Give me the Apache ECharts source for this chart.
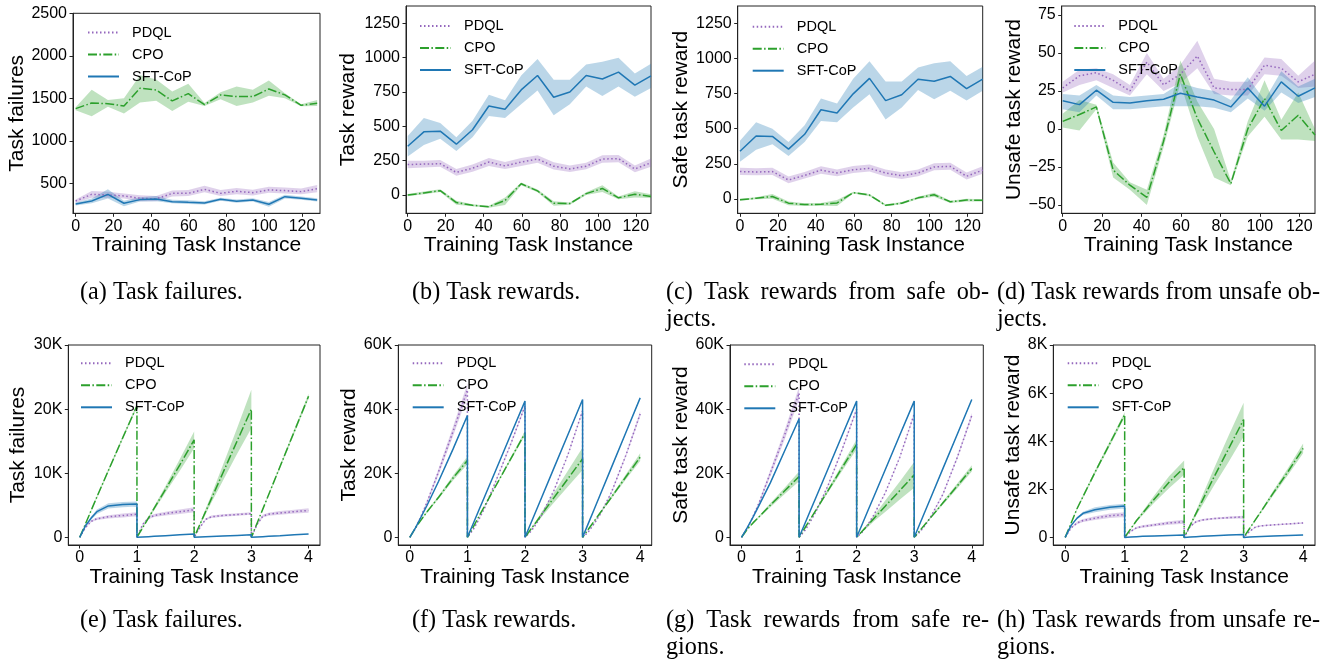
<!DOCTYPE html>
<html>
<head>
<meta charset="utf-8">
<script src="https://cdn.jsdelivr.net/npm/echarts@6/dist/echarts.min.js"></script>
<style>
html,body{margin:0;padding:0;background:#fff;}
#chart{width:1336px;height:663px;}
</style>
</head>
<body>
<div id="chart"></div>
<script>
// ---------- DATA ----------
const seriesNames = ['PDQL', 'CPO', 'SFT-CoP'];
const xAxisTitle = 'Training Task Instance';
const yTitles = ['Task failures', 'Task reward', 'Safe task reward', 'Unsafe task reward',
                 'Task failures', 'Task reward', 'Safe task reward', 'Unsafe task reward'];
const topTicksX = [0, 20, 40, 60, 80, 100, 120];
const botTicksX = [0, 1, 2, 3, 4];

const topX = [0, 8.5, 17.1, 25.6, 34.1, 42.7, 51.2, 59.7, 68.3, 76.8, 85.3, 93.9, 102.4, 110.9, 119.5, 128];
const botX = [0,0.1,0.2,0.3,0.5,0.75,1, 1,1.1,1.2,1.3,1.5,1.75,2, 2,2.1,2.2,2.3,2.5,2.75,3, 3,3.1,3.2,3.3,3.5,3.75,4];

// (a) Task failures
const aPdql   = [292,370,363,351,324,316,382,382,429,382,406,390,422,414,402,437];
const aPdqlLo = [270,330,330,320,290,290,345,350,395,350,370,355,390,380,370,395];
const aPdqlHi = [310,410,400,380,360,350,415,420,470,420,445,425,460,450,440,480];
const aCpo    = [1378,1445,1437,1410,1618,1598,1469,1555,1425,1539,1520,1520,1610,1540,1418,1441];
const aCpoLo  = [1360,1290,1400,1320,1450,1470,1350,1460,1410,1490,1410,1450,1530,1500,1405,1410];
const aCpoHi  = [1395,1600,1480,1500,1770,1720,1580,1670,1445,1570,1640,1600,1710,1560,1430,1480];
const aSft    = [257,292,370,265,308,316,284,276,269,312,288,304,253,343,324,304];
const aSftLo  = [240,265,320,230,285,290,265,255,250,295,270,285,225,320,305,285];
const aSftHi  = [275,320,430,295,335,350,305,300,290,330,310,325,280,365,345,325];

// (b) Task rewards
const bPdql   = [222,225,228,165,195,240,212,240,262,210,190,210,262,265,190,235];
const bPdqlLo = [195,200,205,140,170,212,190,212,235,185,168,188,235,238,165,205];
const bPdqlHi = [250,250,255,190,222,270,240,270,290,238,215,235,290,292,215,265];
const bCpo    = [0,15,32,-55,-75,-85,-40,82,30,-60,-62,10,48,-20,5,-10];
const bCpoLo  = [-8,5,22,-70,-82,-92,-72,72,20,-78,-70,0,22,-30,-18,-22];
const bCpoHi  = [8,25,42,-42,-68,-78,-18,92,40,-45,-55,20,72,-10,28,5];
const bSft    = [355,460,465,370,475,648,625,765,870,712,750,870,845,895,800,868];
const bSftLo  = [280,365,410,320,420,575,560,660,760,580,660,790,720,790,715,780];
const bSftHi  = [430,560,525,420,540,730,690,870,990,840,840,950,970,1000,885,955];

// (c) Task rewards from safe objects
const cPdql   = [195,192,195,135,168,205,185,208,218,185,165,185,228,232,162,205];
const cPdqlLo = [170,168,170,112,145,180,162,185,195,160,142,162,205,208,138,180];
const cPdqlHi = [222,218,222,160,192,232,210,235,245,210,190,210,255,258,188,232];
const cCpo    = [-5,5,18,-30,-40,-38,-28,45,28,-45,-30,8,30,-20,-8,-10];
const cCpoLo  = [-12,-2,2,-45,-50,-48,-50,38,20,-52,-38,0,16,-28,-18,-18];
const cCpoHi  = [2,12,35,-18,-30,-28,-8,52,36,-38,-22,16,44,-12,2,-2];
const cSft    = [340,448,445,355,460,635,612,748,858,700,742,852,838,872,785,852];
const cSftLo  = [265,350,390,305,405,555,545,650,745,565,650,775,710,770,700,770];
const cSftHi  = [415,545,500,405,525,715,680,855,980,835,835,935,965,980,875,940];

// (d) Task rewards from unsafe objects
const dPdql   = [27,35,37,32,25,44,29,36,48,27,26,26,42,40,31,36];
const dPdqlLo = [24,29,32,27,22,36,25,30,40,23,22,22,36,35,27,28];
const dPdqlHi = [31,39,40,36,29,50,33,42,58,33,31,31,47,46,35,45];
const dCpo    = [5,9.5,14.5,-27,-37,-45,-8,36,7,-15,-36,0,20,-1,9,-4];
const dCpoLo  = [1,-1,13,-32,-40,-50,-12,30,-5,-32,-37,-5,8,-7,-7,-8];
const dCpoHi  = [10,19,16,-22,-35,-40,-4,45,18,0,-34,5,32,6,24,0];
const dSft    = [18.5,16,25.5,17.5,17,18.5,19.5,23.5,21,19,14.5,27,15,31,21.5,27];
const dSftLo  = [13,11,22,13,13,14,15,15,15,14,11,20,12,24,17,21];
const dSftHi  = [23,22,29,22,21,22,23,30,27,25,19,34,19,38,28,33];

// (e) Task failures (cumulative)
const ePdql   = [0,1500,2500,2900,3200,3400,3600, 0,2000,3000,3400,3700,4000,4300, 0,1500,2800,3200,3400,3550,3700, 0,2000,3300,3600,3800,4000,4200];
const ePdqlSp = [0,100,150,200,250,300,300, 0,150,200,250,300,350,400, 0,100,150,200,200,200,200, 0,150,200,250,300,300,350];
const eCpo    = [0,2100,4200,6300,10400,15500,20500, 0,1500,3000,4500,7500,11300,15200, 0,2000,4000,6000,10000,15000,20000, 0,2200,4400,6600,11000,16500,22000];
const eCpoSp  = [0,100,150,200,250,300,300, 0,100,200,300,500,900,1300, 0,200,400,600,1200,2000,3000, 0,50,100,150,250,350,400];
const eSft    = [0,1800,3000,4000,4900,5100,5200, 0,50,100,150,250,380,500, 0,40,80,120,200,300,400, 0,50,100,150,250,380,500];
const eSftSp  = [0,150,250,350,400,400,400, 0,20,20,20,30,30,30, 0,20,20,20,30,30,30, 0,20,20,20,30,30,30];

// (f) Task rewards (cumulative)
const fPdql   = [0,2800,6800,11000,20500,33000,46000, 0,2400,5600,9200,17800,29000,41000, 0,1800,4300,7300,14500,26000,39500, 0,1700,4200,7000,14000,25500,38500];
const fPdqlSp = [0,100,300,500,1000,1500,2000, 0,50,100,200,300,400,500, 0,50,100,150,200,300,400, 0,50,100,200,300,500,800];
const fCpo    = [0,3000,5500,8000,12500,18500,24000, 0,3200,6500,9800,16300,24400,32500, 0,2500,4900,7400,12300,18400,24500, 0,2500,5000,7500,12500,18800,25000];
const fCpoSp  = [0,100,200,300,500,800,1200, 0,100,150,200,300,500,700, 0,200,500,800,1500,2500,3500, 0,100,200,300,500,800,1200];
const fSft    = [0,3000,6500,10000,17500,27500,38000, 0,4250,8500,12750,21250,31900,42500, 0,4300,8600,12900,21500,32250,43000, 0,4350,8700,13050,21750,32600,43500];
const fSftSp  = [0,50,80,100,150,200,200, 0,50,80,100,150,200,200, 0,50,80,100,150,200,200, 0,50,80,100,150,200,200];

// (g) Task rewards from safe regions (cumulative)
const gPdql   = [0,2700,6500,10500,20000,32000,45000, 0,2100,5000,8300,16000,27500,40000, 0,1700,4100,7000,14000,25000,38500, 0,1700,4000,6800,13500,25000,38000];
const gPdqlSp = [0,100,300,500,1000,1500,2000, 0,50,100,200,300,400,500, 0,50,100,150,200,300,400, 0,50,100,200,300,500,800];
const gCpo    = [0,2500,4500,6300,10000,14500,19000, 0,2900,5800,8700,14500,21800,29000, 0,2000,3900,5900,9800,14600,19500, 0,2150,4300,6450,10750,16100,21500];
const gCpoSp  = [0,100,200,300,600,1000,1500, 0,100,200,300,600,1000,1500, 0,300,600,900,1800,2800,4000, 0,100,200,300,500,800,1000];
const gSft    = [0,3000,6300,9800,17000,27000,37000, 0,4250,8500,12750,21250,31900,42500, 0,4250,8500,12750,21250,31900,42500, 0,4300,8600,12900,21500,32250,43000];
const gSftSp  = [0,50,80,100,150,200,200, 0,50,80,100,150,200,200, 0,50,80,100,150,200,200, 0,50,80,100,150,200,200];

// (h) Task rewards from unsafe regions (cumulative)
const hPdql   = [0,400,600,700,800,900,950, 0,250,400,450,520,600,650, 0,450,650,720,780,820,850, 0,250,430,480,520,560,600];
const hPdqlSp = [0,30,50,60,80,90,100, 0,30,40,50,60,70,80, 0,30,40,40,40,50,50, 0,20,30,30,30,30,30];
const hCpo    = [0,600,1200,1700,2700,3900,5100, 0,350,700,1000,1600,2300,2900, 0,500,1000,1500,2500,3700,4900, 0,370,740,1100,1850,2750,3700];
const hCpoSp  = [0,20,40,60,80,100,100, 0,20,50,80,150,250,300, 0,50,100,200,350,550,700, 0,20,40,60,100,150,200];
const hSft    = [0,500,800,1000,1150,1250,1300, 0,15,30,45,60,80,100, 0,15,30,45,70,100,120, 0,15,30,40,60,80,100];
const hSftSp  = [0,30,50,70,100,100,100, 0,5,5,10,10,10,10, 0,5,5,10,10,10,10, 0,5,5,10,10,10,10];

const yTicksA = [500, 1000, 1500, 2000, 2500];
const yTicksBC = [0, 250, 500, 750, 1000, 1250];
const yTicksD = [-50, -25, 0, 25, 50, 75];
const yTicksE = [0, 10000, 20000, 30000];
const yTicksFG = [0, 20000, 40000, 60000];
const yTicksH = [0, 2000, 4000, 6000, 8000];

const captions = [
  {lines: ['(a) Task failures.'], x0: 80, y: 293},
  {lines: ['(b) Task rewards.'], x0: 412, y: 293},
  {lines: ['(c) Task rewards from safe ob-', 'jects.'], x0: 666, x1: 989, y: 293},
  {lines: ['(d) Task rewards from unsafe ob-', 'jects.'], x0: 997, x1: 1320, y: 293},
  {lines: ['(e) Task failures.'], x0: 80, y: 621},
  {lines: ['(f) Task rewards.'], x0: 412, y: 621},
  {lines: ['(g) Task rewards from safe re-', 'gions.'], x0: 666, x1: 989, y: 621},
  {lines: ['(h) Task rewards from unsafe re-', 'gions.'], x0: 997, x1: 1320, y: 621}
];

// ---------- STYLE / LAYOUT ----------
const COLORS = {PDQL: '#9467bd', CPO: '#2ca02c', 'SFT-CoP': '#1f77b4'};
const BANDS = {PDQL: 'rgba(148,103,189,0.3)', CPO: 'rgba(44,160,44,0.3)', 'SFT-CoP': 'rgba(31,119,180,0.3)'};
const DASH = {PDQL: [1.5, 2.5], CPO: [9, 2.4, 1.5, 2.4], 'SFT-CoP': 'solid'};
const SANS = '"Liberation Sans", Arial, sans-serif';
const SERIF = '"Liberation Serif", "Times New Roman", serif';
const CAP_SIZE = 24.2;

function sym(mean, sp) { return [mean.map((v,i)=>v - sp[i]), mean.map((v,i)=>v + sp[i])]; }

const panels = [
  {grid: {left: 73, top: 13.3, width: 247, height: 200}, xr: [-1.4, 129.5], yr: [147, 2500], xt: topTicksX, yt: yTicksA, gap: 45, leg: [87, 25], xs: topX,
   s: {PDQL: [aPdql, aPdqlLo, aPdqlHi], CPO: [aCpo, aCpoLo, aCpoHi], 'SFT-CoP': [aSft, aSftLo, aSftHi]}},
  {grid: {left: 406, top: 6, width: 245, height: 207.3}, xr: [-0.9, 128], yr: [-133, 1376], xt: topTicksX, yt: yTicksBC, gap: 47, leg: [419, 18.5], xs: topX,
   s: {PDQL: [bPdql, bPdqlLo, bPdqlHi], CPO: [bCpo, bCpoLo, bCpoHi], 'SFT-CoP': [bSft, bSftLo, bSftHi]}},
  {grid: {left: 737.7, top: 6, width: 245, height: 207.3}, xr: [-1.2, 128], yr: [-102, 1373], xt: topTicksX, yt: yTicksBC, gap: 45.5, leg: [751.7, 19.2], xs: topX,
   s: {PDQL: [cPdql, cPdqlLo, cPdqlHi], CPO: [cCpo, cCpoLo, cCpoHi], 'SFT-CoP': [cSft, cSftLo, cSftHi]}},
  {grid: {left: 1061.7, top: 6, width: 253.3, height: 207.3}, xr: [-0.5, 128], yr: [-55.5, 80.9], xt: topTicksX, yt: yTicksD, gap: 36, leg: [1073.3, 18.5], xs: topX,
   s: {PDQL: [dPdql, dPdqlLo, dPdqlHi], CPO: [dCpo, dCpoLo, dCpoHi], 'SFT-CoP': [dSft, dSftLo, dSftHi]}},
  {grid: {left: 68.3, top: 345, width: 251.7, height: 200}, xr: [-0.2, 4.2], yr: [-1200, 30000], xt: botTicksX, yt: yTicksE, gap: 39.5, leg: [80, 355.8], xs: botX, k: true,
   s: {PDQL: [ePdql, ...sym(ePdql, ePdqlSp)], CPO: [eCpo, ...sym(eCpo, eCpoSp)], 'SFT-CoP': [eSft, ...sym(eSft, eSftSp)]}},
  {grid: {left: 398.3, top: 345, width: 253.4, height: 200}, xr: [-0.2, 4.2], yr: [-2400, 60000], xt: botTicksX, yt: yTicksFG, gap: 38, leg: [411.7, 355.8], xs: botX, k: true,
   s: {PDQL: [fPdql, ...sym(fPdql, fPdqlSp)], CPO: [fCpo, ...sym(fCpo, fCpoSp)], 'SFT-CoP': [fSft, ...sym(fSft, fSftSp)]}},
  {grid: {left: 730, top: 345, width: 253.3, height: 200}, xr: [-0.2, 4.2], yr: [-2400, 60000], xt: botTicksX, yt: yTicksFG, gap: 38, leg: [743.3, 356.8], xs: botX, k: true,
   s: {PDQL: [gPdql, ...sym(gPdql, gPdqlSp)], CPO: [gCpo, ...sym(gCpo, gCpoSp)], 'SFT-CoP': [gSft, ...sym(gSft, gSftSp)]}},
  {grid: {left: 1053.3, top: 345, width: 261.7, height: 200}, xr: [-0.2, 4.2], yr: [-317, 8000], xt: botTicksX, yt: yTicksH, gap: 28, leg: [1066.7, 355.8], xs: botX, k: true,
   s: {PDQL: [hPdql, ...sym(hPdql, hPdqlSp)], CPO: [hCpo, ...sym(hCpo, hCpoSp)], 'SFT-CoP': [hSft, ...sym(hSft, hSftSp)]}}
];

function fmtNum(v) { return v < 0 ? '\u2212' + (-v) : String(v); }
function fmtK(v) { return v === 0 ? '0' : (v / 1000) + 'K'; }

const grids = [], xAxes = [], yAxes = [], legends = [], series = [];
panels.forEach((p, gi) => {
  grids.push(Object.assign({show: true, borderColor: '#222', borderWidth: 1, backgroundColor: 'transparent'}, p.grid));
  xAxes.push({
    type: 'value', gridIndex: gi, min: p.xr[0], max: p.xr[1],
    name: xAxisTitle, nameLocation: 'middle', nameGap: 20,
    nameTextStyle: {fontSize: 21, color: '#000', fontFamily: SANS},
    axisLine: {show: true, onZero: false, lineStyle: {color: '#222', width: 1}},
    axisTick: {show: true, customValues: p.xt, length: 3.5, lineStyle: {color: '#222'}},
    axisLabel: {customValues: p.xt, fontSize: 16, color: '#000', fontFamily: SANS, margin: 5},
    splitLine: {show: false}
  });
  yAxes.push({
    type: 'value', gridIndex: gi, min: p.yr[0], max: p.yr[1],
    name: yTitles[gi], nameLocation: 'middle', nameGap: p.gap,
    nameTextStyle: {fontSize: 21, color: '#000', fontFamily: SANS},
    axisLine: {show: true, onZero: false, lineStyle: {color: '#222', width: 1}},
    axisTick: {show: true, customValues: p.yt, length: 3.5, lineStyle: {color: '#222'}},
    axisLabel: {customValues: p.yt, fontSize: 16, color: '#000', fontFamily: SANS, margin: 6,
                formatter: p.k ? fmtK : fmtNum},
    splitLine: {show: false}
  });
  legends.push({
    data: seriesNames, orient: 'vertical', left: p.leg[0], top: p.leg[1],
    itemWidth: 31, itemHeight: 14, itemGap: 7, selectedMode: false, padding: 0,
    itemStyle: {opacity: 0},
    formatter: n => '  ' + n,
    textStyle: {fontSize: 14.5, color: '#000', fontFamily: SANS}
  });
  seriesNames.forEach(name => {
    const [mean, lo, hi] = p.s[name];
    const xs = p.xs;
    series.push({
      type: 'custom', name: name + ' band', xAxisIndex: gi, yAxisIndex: gi, silent: true, z: 1,
      data: xs.map((x, i) => [x, lo[i], hi[i]]),
      encode: {x: 0, y: [1, 2]},
      renderItem: (params, api) => {
        if (params.dataIndex !== 0) return null;
        const pts = [];
        for (let i = 0; i < xs.length; i++) pts.push(api.coord([xs[i], hi[i]]));
        for (let i = xs.length - 1; i >= 0; i--) pts.push(api.coord([xs[i], lo[i]]));
        return {type: 'polygon', shape: {points: pts}, style: {fill: BANDS[name], stroke: null}, silent: true};
      }
    });
  });
  seriesNames.forEach(name => {
    const mean = p.s[name][0];
    series.push({
      type: 'line', name: name, xAxisIndex: gi, yAxisIndex: gi, z: 3,
      data: p.xs.map((x, i) => [x, mean[i]]),
      symbol: 'none', showSymbol: false, silent: true, clip: true,
      lineStyle: {color: COLORS[name], width: 1.5, type: DASH[name]},
      itemStyle: {color: COLORS[name]}
    });
  });
});

// captions (justified first lines where the original text wraps)
const mctx = document.createElement('canvas').getContext('2d');
const CAP_FONT = CAP_SIZE + 'px ' + SERIF;
mctx.font = CAP_FONT;
const graphics = [];
captions.forEach(c => {
  c.lines.forEach((line, li) => {
    const y = c.y + li * 27;
    if (c.x1 !== undefined && li === 0) {
      const words = line.split(' ');
      const widths = words.map(w => mctx.measureText(w).width);
      const total = widths.reduce((a, b) => a + b, 0);
      const gapW = (c.x1 - c.x0 - total) / (words.length - 1);
      let x = c.x0;
      words.forEach((w, wi) => {
        graphics.push({type: 'text', x: x, y: y, silent: true,
          style: {text: w, font: CAP_FONT, fill: '#000', align: 'left', verticalAlign: 'middle'}});
        x += widths[wi] + gapW;
      });
    } else {
      graphics.push({type: 'text', x: c.x0, y: y, silent: true,
        style: {text: line, font: CAP_FONT, fill: '#000', align: 'left', verticalAlign: 'middle'}});
    }
  });
});

const chart = echarts.init(document.getElementById('chart'), null, {renderer: 'canvas'});
chart.setOption({
  animation: false,
  backgroundColor: '#fff',
  grid: grids, xAxis: xAxes, yAxis: yAxes, legend: legends, series: series,
  graphic: graphics
});
</script>
</body>
</html>
